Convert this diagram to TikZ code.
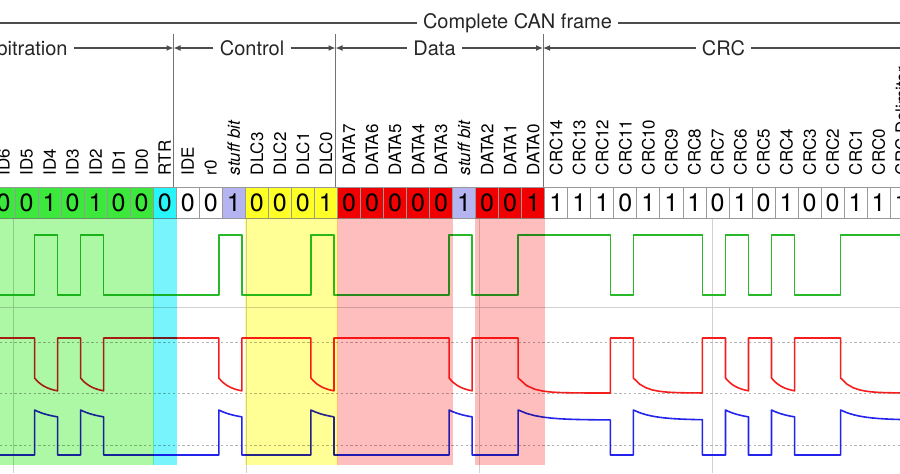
\documentclass[tikz,border=0pt]{standalone}
\usepackage{fontspec}
\setmainfont{TeX Gyre Heros}
\usetikzlibrary{arrows.meta, positioning}
\definecolor{IdGreen}{RGB}{60,232,60}
\definecolor{RtrCyan}{RGB}{40,245,250}
\definecolor{StuffBlue}{RGB}{180,180,240}
\definecolor{DlcYellow}{RGB}{255,255,40}
\definecolor{DataRed}{RGB}{240,0,0}
\definecolor{ShadeGreen}{RGB}{172,248,165}
\definecolor{ShadeCyan}{RGB}{120,245,252}
\definecolor{ShadeYellow}{RGB}{255,255,150}
\definecolor{ShadeRed}{RGB}{255,190,190}
\definecolor{SigGreen}{RGB}{40,185,40}
\definecolor{SigRed}{RGB}{245,30,30}
\definecolor{SigBlue}{RGB}{35,35,235}
\def\canruns{0/2/0, 2/1/1, 3/1/0, 4/1/1, 5/5/0, 10/1/1, 11/3/0, 14/1/1, 15/5/0,
  20/1/1, 21/2/0, 23/4/1, 27/1/0, 28/3/1, 31/1/0, 32/1/1, 33/1/0, 34/1/1,
  35/2/0, 37/3/1}

\begin{document}
\begin{tikzpicture}[x=0.5pt, y=-0.5pt]
    \tikzset{
        hdrlabel/.style={font=\fontsize{10}{12}\selectfont, text=black!85,
            inner xsep=3pt, inner ysep=1pt},
        hdrline/.style={draw=black!70, line width=0.6pt},
        span/.style={hdrline, -{Latex[length=3.5pt, width=3pt]}},
        sepline/.style={draw=black!55, line width=0.5pt},
        bitcell/.style={rectangle, draw=black!40, line width=0.4pt,
            minimum width=11.515pt, minimum height=15.5pt, inner sep=0pt,
            font=\fontsize{12.5}{14}\selectfont},
        bitlabel/.style={rotate=90, anchor=west, inner sep=0pt,
            font=\fontsize{8.5}{10}\selectfont},
        scopegrid/.style={draw=black!18, line width=0.4pt},
        scopedots/.style={draw=black!30, line width=0.4pt,
            dash pattern=on 1.2pt off 1.2pt},
        trace/.style={line width=0.8pt, line join=round}
    }
    \useasboundingbox (0,0) rectangle (900,473);
    \clip (0,0) rectangle (900,473);
    % scope graticule
    \foreach \gx in {13,246,479,712}
        \draw[scopegrid] (\gx,218) -- (\gx,473);
    \draw[scopegrid] (0,307) -- (900,307);
    \foreach \gy in {342,393,445}
        \draw[scopedots] (0,\gy) -- (900,\gy);
    % bus signals
    \draw[trace, SigGreen] (-12,295) foreach \s/\n/\v in \canruns {
        -- ({-11.5+23.03*\s}, {295-60*\v}) -- ({-11.5+23.03*(\s+\n)}, {295-60*\v}) };
    \draw[trace, SigRed] (-12,338) foreach \s/\n/\v in \canruns {
        -- plot[domain=0:\n*23.03, samples=12]
            ({-11.5+23.03*\s+\x}, {338+\v*(55-15*exp(-\x/12))}) };
    \draw[trace, SigBlue] (-12,455) foreach \s/\n/\v in \canruns {
        -- plot[domain=0:\n*23.03, samples=12]
            ({-11.5+23.03*\s+\x}, {455-\v*(35+10*exp(-\x/20))}) };
    % bit row
    \foreach \i/\b/\lab/\col in {0/0/ID6/IdGreen, 1/0/ID5/IdGreen,
        2/1/ID4/IdGreen, 3/0/ID3/IdGreen, 4/1/ID2/IdGreen, 5/0/ID1/IdGreen,
        6/0/ID0/IdGreen, 7/0/RTR/RtrCyan, 8/0/IDE/white, 9/0/r0/white,
        10/1/{\textit{stuff bit}}/StuffBlue, 11/0/DLC3/DlcYellow,
        12/0/DLC2/DlcYellow, 13/0/DLC1/DlcYellow, 14/1/DLC0/DlcYellow,
        15/0/DATA7/DataRed, 16/0/DATA6/DataRed, 17/0/DATA5/DataRed,
        18/0/DATA4/DataRed, 19/0/DATA3/DataRed,
        20/1/{\textit{stuff bit}}/StuffBlue, 21/0/DATA2/DataRed,
        22/0/DATA1/DataRed, 23/1/DATA0/DataRed, 24/1/CRC14/white,
        25/1/CRC13/white, 26/1/CRC12/white, 27/0/CRC11/white,
        28/1/CRC10/white, 29/1/CRC9/white, 30/1/CRC8/white, 31/0/CRC7/white,
        32/1/CRC6/white, 33/0/CRC5/white, 34/1/CRC4/white, 35/0/CRC3/white,
        36/0/CRC2/white, 37/1/CRC1/white, 38/1/CRC0/white,
        39/1/CRC Delimiter/white} {
        \node[bitcell, fill=\col] (b\i) at ({-8+23.03*(\i+0.5)}, 202.5) {\b};
        \node[bitlabel] (l\i) at ([yshift=5.5pt]b\i.north) {\lab};
    }
    % field shading
    \coordinate (shadebot) at (0,465);
    \begin{scope}[blend mode=multiply]
        \fill[ShadeGreen] (b0.south west) rectangle (b6.south east |- shadebot);
        \fill[ShadeCyan] (b7.south west) rectangle (b7.south east |- shadebot);
        \fill[ShadeYellow] (b11.south west) rectangle (b14.south east |- shadebot);
        \fill[ShadeRed] (b15.south west) rectangle (b19.south east |- shadebot);
        \fill[ShadeRed] (b21.south west) rectangle (b23.south east |- shadebot);
    \end{scope}
    % frame header
    \node[hdrlabel] (frame) at (517.5,23) {Complete CAN frame};
    \coordinate (frameL) at (0,23);
    \coordinate (frameR) at (900,23);
    \draw[hdrline] (frame) -- (frameL);
    \draw[hdrline] (frame) -- (frameR);
    \node[hdrlabel, anchor=east] (arb) at (74,48) {Arbitration};
    \node[hdrlabel] (ctrl) at (252,48) {Control};
    \node[hdrlabel] (data) at (434.5,48) {Data};
    \node[hdrlabel] (crc) at (723.5,48) {CRC};
    \coordinate (sepA) at (173.5,48);
    \coordinate (sepB) at (335.5,48);
    \coordinate (sepC) at (543,48);
    \coordinate (crcR) at (900,48);
    \coordinate (septop) at (0,34);
    \foreach \sep in {sepA,sepB,sepC}
        \draw[sepline] (\sep |- septop) -- (\sep |- b0.north);
    \draw[span] (arb) -- (sepA);
    \draw[span] (ctrl) -- (sepA);
    \draw[span] (ctrl) -- (sepB);
    \draw[span] (data) -- (sepB);
    \draw[span] (data) -- (sepC);
    \draw[span] (crc) -- (sepC);
    \draw[hdrline] (crc) -- (crcR);
\end{tikzpicture}
\end{document}
